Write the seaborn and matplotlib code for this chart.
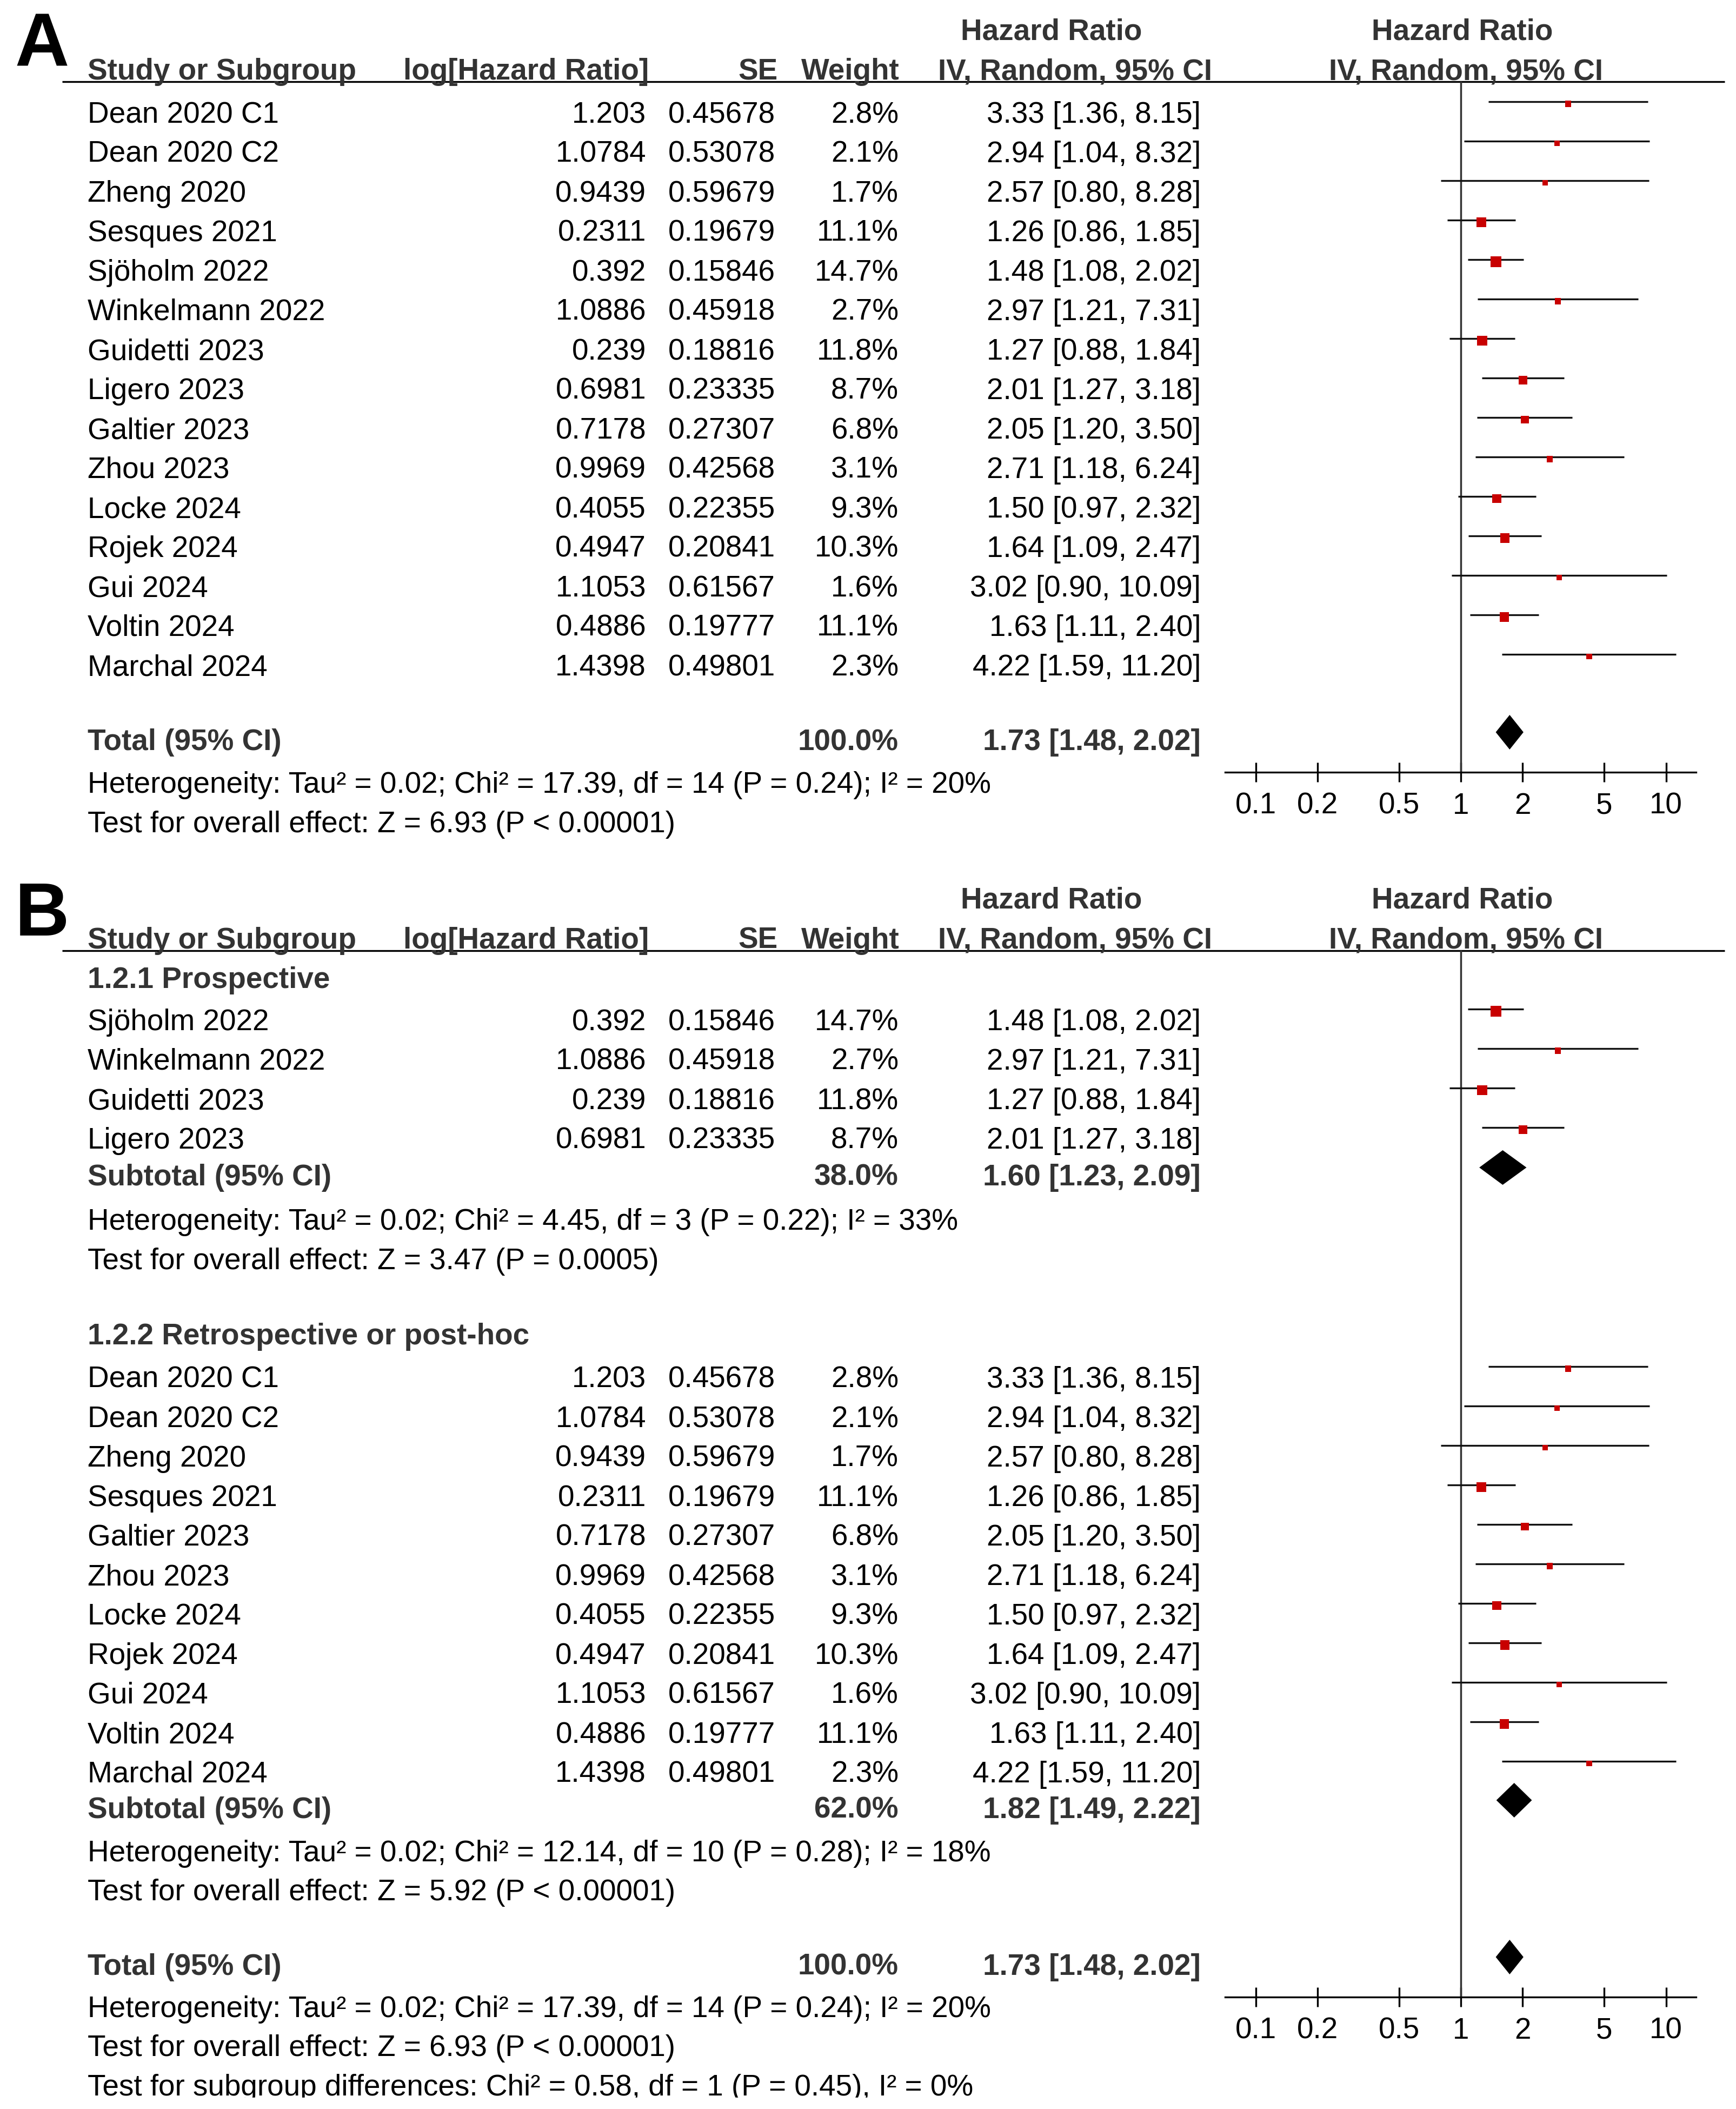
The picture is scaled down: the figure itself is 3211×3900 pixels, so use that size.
import matplotlib
matplotlib.use("Agg")
import numpy as np
import pandas as pd
import matplotlib.pyplot as plt
import seaborn as sns
from matplotlib.patches import Rectangle
from matplotlib.ticker import NullLocator

# ---- data ----
studies = ["Dean 2020 C1", "Dean 2020 C2", "Zheng 2020", "Sesques 2021", "Sjöholm 2022",
           "Winkelmann 2022", "Guidetti 2023", "Ligero 2023", "Galtier 2023", "Zhou 2023",
           "Locke 2024", "Rojek 2024", "Gui 2024", "Voltin 2024", "Marchal 2024"]
log_hr = [1.203, 1.0784, 0.9439, 0.2311, 0.392, 1.0886, 0.239, 0.6981, 0.7178, 0.9969,
          0.4055, 0.4947, 1.1053, 0.4886, 1.4398]
se = [0.45678, 0.53078, 0.59679, 0.19679, 0.15846, 0.45918, 0.18816, 0.23335, 0.27307,
      0.42568, 0.22355, 0.20841, 0.61567, 0.19777, 0.49801]
weight = [2.8, 2.1, 1.7, 11.1, 14.7, 2.7, 11.8, 8.7, 6.8, 3.1, 9.3, 10.3, 1.6, 11.1, 2.3]
hr = [3.33, 2.94, 2.57, 1.26, 1.48, 2.97, 1.27, 2.01, 2.05, 2.71, 1.50, 1.64, 3.02, 1.63, 4.22]
ci_lo = [1.36, 1.04, 0.80, 0.86, 1.08, 1.21, 0.88, 1.27, 1.20, 1.18, 0.97, 1.09, 0.90, 1.11, 1.59]
ci_hi = [8.15, 8.32, 8.28, 1.85, 2.02, 7.31, 1.84, 3.18, 3.50, 6.24, 2.32, 2.47, 10.09, 2.40, 11.20]
design = ["retro", "retro", "retro", "retro", "pro", "pro", "pro", "pro", "retro", "retro",
          "retro", "retro", "retro", "retro", "retro"]

# pooled estimates: (HR, lower, upper, weight)
total_pool = (1.73, 1.48, 2.02, 100.0)
pro_pool = (1.60, 1.23, 2.09, 38.0)
retro_pool = (1.82, 1.49, 2.22, 62.0)

subgroup_titles = ["1.2.1 Prospective", "1.2.2 Retrospective or post-hoc"]
total_het = "Heterogeneity: Tau² = 0.02; Chi² = 17.39, df = 14 (P = 0.24); I² = 20%"
total_test = "Test for overall effect: Z = 6.93 (P < 0.00001)"
pro_het = "Heterogeneity: Tau² = 0.02; Chi² = 4.45, df = 3 (P = 0.22); I² = 33%"
pro_test = "Test for overall effect: Z = 3.47 (P = 0.0005)"
retro_het = "Heterogeneity: Tau² = 0.02; Chi² = 12.14, df = 10 (P = 0.28); I² = 18%"
retro_test = "Test for overall effect: Z = 5.92 (P < 0.00001)"
subgroup_diff = "Test for subgroup differences: Chi² = 0.58, df = 1 (P = 0.45), I² = 0%"
ticks = [0.1, 0.2, 0.5, 1, 2, 5, 10]
tick_labels = ["0.1", "0.2", "0.5", "1", "2", "5", "10"]

# ---- layout (pixels) ----
W, H = 3211, 3900
FS = 39.5
HEAD = "#333333"
RED = "#C80000"
ROW = 73
AX_L, AX_R, AX_ONE = 2266, 3137, 2702
DEC = 379.5

sns.set_style("white")
plt.rcParams["font.family"] = ["Liberation Sans", "DejaVu Sans"]

fig = plt.figure(figsize=(W / 100, H / 100), dpi=100)
tab = fig.add_axes([0, 0, 1, 1])
tab.set_xlim(0, W)
tab.set_ylim(H, 0)
tab.axis("off")


def txt(x, y, s, ha="left", bold=False, color="black", size=FS):
    tab.text(x, y, s, ha=ha, va="baseline", fontsize=size,
             fontweight="bold" if bold else "normal", color=color)


def header(y0):
    y1 = y0 + 74
    txt(1945, y0, "Hazard Ratio", ha="center", bold=True, color=HEAD)
    txt(2705, y0, "Hazard Ratio", ha="center", bold=True, color=HEAD)
    txt(162, y1, "Study or Subgroup", bold=True, color=HEAD)
    txt(1200, y1, "log[Hazard Ratio]", ha="right", bold=True, color=HEAD)
    txt(1439, y1, "SE", ha="right", bold=True, color=HEAD)
    txt(1664, y1, "Weight", ha="right", bold=True, color=HEAD)
    txt(2242, y1, "IV, Random, 95% CI", ha="right", bold=True, color=HEAD)
    txt(2712, y1, "IV, Random, 95% CI", ha="center", bold=True, color=HEAD)
    tab.hlines(y1 + 4, 115, 3190, color="black", lw=2.4)
    return y1 + 4


def study_text(i, y):
    txt(162, y, studies[i])
    txt(1195, y, str(log_hr[i]), ha="right")
    txt(1434, y, str(se[i]), ha="right")
    txt(1662, y, f"{weight[i]:.1f}%", ha="right")
    txt(2221, y, f"{hr[i]:.2f} [{ci_lo[i]:.2f}, {ci_hi[i]:.2f}]", ha="right")


def summary_text(label, pool, y):
    txt(162, y, label, bold=True, color=HEAD)
    txt(1662, y, f"{pool[3]:.1f}%", ha="right", bold=True, color=HEAD)
    txt(2221, y, f"{pool[0]:.2f} [{pool[1]:.2f}, {pool[2]:.2f}]", ha="right", bold=True, color=HEAD)


def forest_axes(top, bottom):
    ax = fig.add_axes([AX_L / W, 1 - bottom / H, (AX_R - AX_L) / W, (bottom - top) / H])
    ax.set_xscale("log")
    ax.patch.set_alpha(0)
    return ax


def finish_axes(ax, top, bottom):
    ax.set_xlim(10 ** ((AX_L - AX_ONE) / DEC), 10 ** ((AX_R - AX_ONE) / DEC))
    ax.set_ylim(bottom, top)
    ax.axvline(1, color="#333333", lw=2.5, zorder=1)
    for s in ["top", "left", "right"]:
        ax.spines[s].set_visible(False)
    ax.spines["bottom"].set_linewidth(2.4)
    ax.spines["bottom"].set_color("black")
    ax.set_yticks([])
    ax.set_xticks(ticks)
    ax.set_xticklabels(tick_labels)
    ax.xaxis.set_minor_locator(NullLocator())
    ax.tick_params(axis="x", which="major", bottom=True, direction="inout", length=26.6,
                   width=2.4, pad=13, labelsize=FS, colors="black")
    ax.set_xlabel("")
    ax.set_ylabel("")


def draw_studies(ax, idxs, baselines):
    line_y = [b - 39 for b in baselines]
    ax.hlines(line_y, [ci_lo[i] for i in idxs], [ci_hi[i] for i in idxs],
              color="#111111", lw=2.4, zorder=2)
    df = pd.DataFrame({"hr": [hr[i] for i in idxs],
                       "y": [ly + 4 for ly in line_y],
                       "weight": [weight[i] for i in idxs]})
    sns.scatterplot(data=df, x="hr", y="y", size="weight", sizes=(50, 210),
                    size_norm=(min(weight), max(weight)), marker="s", color=RED,
                    linewidth=0, legend=False, zorder=3, ax=ax)


def diamond(ax, pool, baseline):
    yc = baseline - 33
    ax.fill([pool[1], pool[0], pool[2], pool[0]], [yc, yc - 32, yc, yc + 32],
            color="black", lw=0, zorder=3)


# ---------------- Panel A ----------------
txt(28, 123, "A", bold=True, size=100)
ruleA = header(73)
axisA = 1428
axA = forest_axes(ruleA, axisA)
idxA = list(range(len(studies)))
ysA = [227 + ROW * k for k in range(len(idxA))]
for i, y in zip(idxA, ysA):
    study_text(i, y)
draw_studies(axA, idxA, ysA)
summary_text("Total (95% CI)", total_pool, 1387)
diamond(axA, total_pool, 1387)
txt(162, 1466, total_het)
txt(162, 1539, total_test)
finish_axes(axA, ruleA, axisA)

# ---------------- Panel B ----------------
txt(28, 1730, "B", bold=True, size=100)
ruleB = header(1680)
axisB = 3693
axB = forest_axes(ruleB, axisB)

idx_pro = [i for i in range(len(studies)) if design[i] == "pro"]
idx_retro = [i for i in range(len(studies)) if design[i] == "retro"]

txt(162, 1827, subgroup_titles[0], bold=True, color=HEAD)
ys_pro = [1905 + ROW * k for k in range(len(idx_pro))]
for i, y in zip(idx_pro, ys_pro):
    study_text(i, y)
draw_studies(axB, idx_pro, ys_pro)
summary_text("Subtotal (95% CI)", pro_pool, 2192)
diamond(axB, pro_pool, 2192)
txt(162, 2274, pro_het)
txt(162, 2347, pro_test)

txt(162, 2486, subgroup_titles[1], bold=True, color=HEAD)
ys_retro = [2566 + ROW * k for k in range(len(idx_retro))]
for i, y in zip(idx_retro, ys_retro):
    study_text(i, y)
draw_studies(axB, idx_retro, ys_retro)
summary_text("Subtotal (95% CI)", retro_pool, 3362)
diamond(axB, retro_pool, 3362)
txt(162, 3442, retro_het)
txt(162, 3514, retro_test)

summary_text("Total (95% CI)", total_pool, 3652)
diamond(axB, total_pool, 3652)
txt(162, 3730, total_het)
txt(162, 3802, total_test)
txt(162, 3875, subgroup_diff)
finish_axes(axB, ruleB, axisB)

# the source image is cropped just under the last line
tab.add_patch(Rectangle((0, 3879), W, 30, color="white", zorder=10))

fig.savefig("out.png", dpi=100)
plt.close(fig)
